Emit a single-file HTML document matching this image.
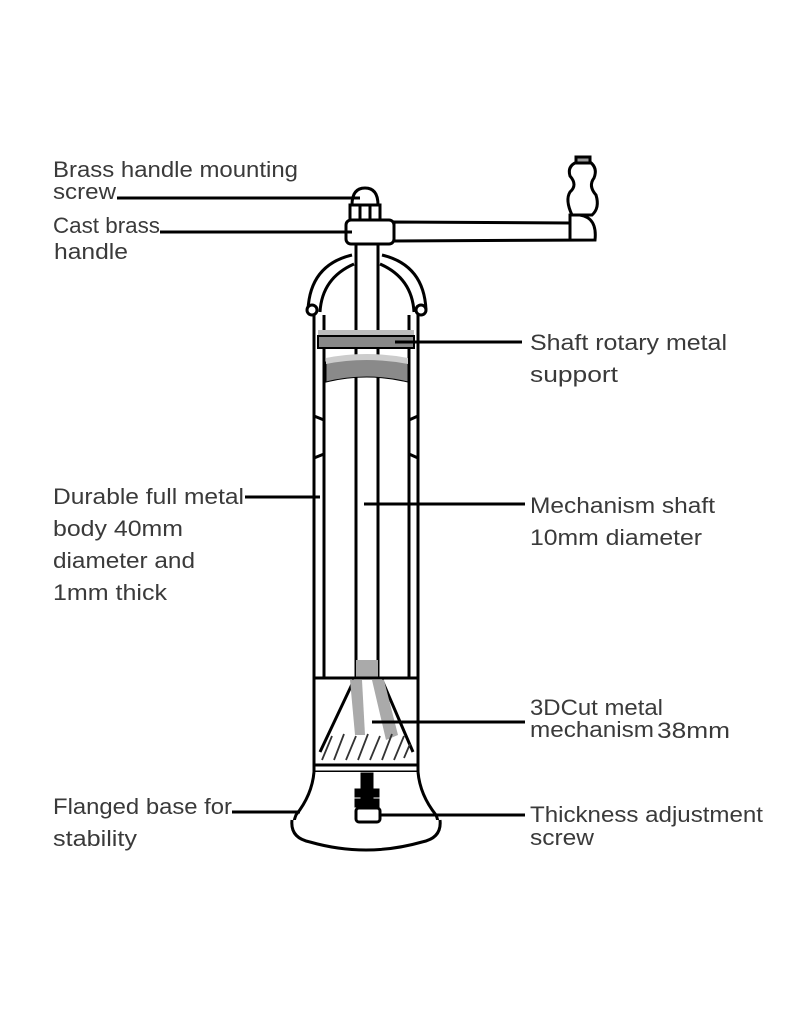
<!DOCTYPE html>
<html><head><style>
html,body{margin:0;padding:0;background:#fff;}
svg{display:block;}
text{font-family:"Liberation Sans",sans-serif;font-size:22px;fill:#3a3a3a;}
</style></head><body>
<svg width="800" height="1024" viewBox="0 0 800 1024" xmlns="http://www.w3.org/2000/svg">
<g fill="none" stroke="#000" stroke-width="3">
<line x1="314" y1="305" x2="314" y2="772"/>
<line x1="324" y1="315" x2="324" y2="678"/>
<line x1="409" y1="315" x2="409" y2="678"/>
<line x1="418" y1="305" x2="418" y2="772"/>
<line x1="356" y1="243" x2="356" y2="678"/>
<line x1="378" y1="243" x2="378" y2="678"/>
<path d="M308 310 Q310 265 352 255"/>
<path d="M320 312 Q322 278 354 264"/>
<path d="M426 310 Q424 265 382 255"/>
<path d="M414 312 Q412 278 380 264"/>
<circle cx="312" cy="310" r="5" fill="#fff"/>
<circle cx="421" cy="310" r="5" fill="#fff"/>
<path d="M314 416 L324 420 M314 458 L324 454 M418 416 L409 420 M418 458 L409 454"/>
</g>
<rect x="318" y="330" width="96" height="6" fill="#bbb"/>
<rect x="318" y="336" width="96" height="12" fill="#888" stroke="#000" stroke-width="2"/>
<path d="M326 362 Q366 352 408 362 L408 382 Q366 372 326 382 Z" fill="#8a8a8a" stroke="#000" stroke-width="1"/>
<path d="M326 358 Q366 350 408 358 L408 364 Q366 356 326 364 Z" fill="#ccc"/>
<g stroke="#000" stroke-width="3" fill="#fff">
<path d="M352 205 Q352 188 365 188 Q378 188 378 205 Z"/>
<rect x="350" y="205" width="30" height="16"/>
<line x1="360" y1="205" x2="360" y2="221"/><line x1="370" y1="205" x2="370" y2="221"/>
<rect x="346" y="220" width="48" height="24" rx="5"/>
<path d="M394 222 L570 223 L570 215 Q598 212 595 240 L394 241 Z"/>
<line x1="570" y1="223" x2="570" y2="240"/>
<path d="M572 215 Q565 200 570 192 Q578 185 570 176 Q567 166 577 162 L590 162 Q598 168 594 178 Q588 186 596 195 Q600 208 592 215 Z"/>
<rect x="576" y="157" width="14" height="6" fill="#999"/>
</g>
<rect x="356" y="660" width="22" height="18" fill="#aaa"/>
<g stroke="#000" stroke-width="3" fill="none">
<line x1="314" y1="678" x2="418" y2="678"/>
<line x1="314" y1="765" x2="418" y2="765"/>
<line x1="314" y1="772" x2="418" y2="772"/>
<path d="M320 752 L354 680 M413 752 L382 680"/>
</g>
<path d="M350 680 L362 680 L365 735 L355 735 Z" fill="#aaa"/>
<path d="M372 680 L384 680 L398 735 L386 740 Z" fill="#aaa"/>
<g stroke="#333" stroke-width="1.8">
<path d="M322 760 l10 -24 M334 760 l10 -26 M346 760 l10 -24 M358 760 l10 -26 M370 760 l10 -24 M382 760 l10 -26 M394 760 l10 -24 M404 758 l6 -14"/>
</g>
<g stroke="#000" stroke-width="3" fill="#fff">
<path d="M314 772 Q312 795 296 815 Q290 830 300 835 Q366 855 432 835 Q442 830 436 815 Q420 795 418 772"/>
<path d="M292 820 Q290 838 310 842 Q366 858 422 842 Q442 838 440 820"/>
<rect x="362" y="774" width="10" height="30" fill="#000"/>
<rect x="356" y="790" width="22" height="6" fill="#000"/>
<rect x="356" y="800" width="22" height="6" fill="#000"/>
<rect x="356" y="808" width="24" height="14" rx="3"/>
</g>
<g stroke="#000" stroke-width="3">
<line x1="117" y1="198" x2="360" y2="198"/>
<line x1="160" y1="232" x2="352" y2="232"/>
<line x1="395" y1="342" x2="522" y2="342"/>
<line x1="245" y1="497" x2="320" y2="497"/>
<line x1="364" y1="504" x2="525" y2="504"/>
<line x1="372" y1="722" x2="525" y2="722"/>
<line x1="232" y1="812" x2="300" y2="812"/>
<line x1="380" y1="815" x2="525" y2="815"/>
</g>
<g lengthAdjust="spacingAndGlyphs">
<text x="53" y="177" textLength="245" lengthAdjust="spacingAndGlyphs">Brass handle mounting</text>
<text x="53" y="199" textLength="63" lengthAdjust="spacingAndGlyphs">screw</text>
<text x="53" y="233" textLength="107" lengthAdjust="spacingAndGlyphs">Cast brass</text>
<text x="54" y="259" textLength="74" lengthAdjust="spacingAndGlyphs">handle</text>
<text x="530" y="350" textLength="197" lengthAdjust="spacingAndGlyphs">Shaft rotary metal</text>
<text x="530" y="382" textLength="88" lengthAdjust="spacingAndGlyphs">support</text>
<text x="53" y="504" textLength="191" lengthAdjust="spacingAndGlyphs">Durable full metal</text>
<text x="53" y="536" textLength="130" lengthAdjust="spacingAndGlyphs">body 40mm</text>
<text x="53" y="568" textLength="142" lengthAdjust="spacingAndGlyphs">diameter and</text>
<text x="53" y="600" textLength="114" lengthAdjust="spacingAndGlyphs">1mm thick</text>
<text x="530" y="513" textLength="185" lengthAdjust="spacingAndGlyphs">Mechanism shaft</text>
<text x="530" y="545" textLength="172" lengthAdjust="spacingAndGlyphs">10mm diameter</text>
<text x="530" y="715" textLength="133" lengthAdjust="spacingAndGlyphs">3DCut metal</text>
<text x="530" y="737" textLength="124" lengthAdjust="spacingAndGlyphs">mechanism</text>
<text x="657" y="738" textLength="73" lengthAdjust="spacingAndGlyphs">38mm</text>
<text x="53" y="814" textLength="179" lengthAdjust="spacingAndGlyphs">Flanged base for</text>
<text x="53" y="846" textLength="84" lengthAdjust="spacingAndGlyphs">stability</text>
<text x="530" y="822" textLength="233" lengthAdjust="spacingAndGlyphs">Thickness adjustment</text>
<text x="530" y="845" textLength="64" lengthAdjust="spacingAndGlyphs">screw</text>
</g>
</svg>
</body></html>
